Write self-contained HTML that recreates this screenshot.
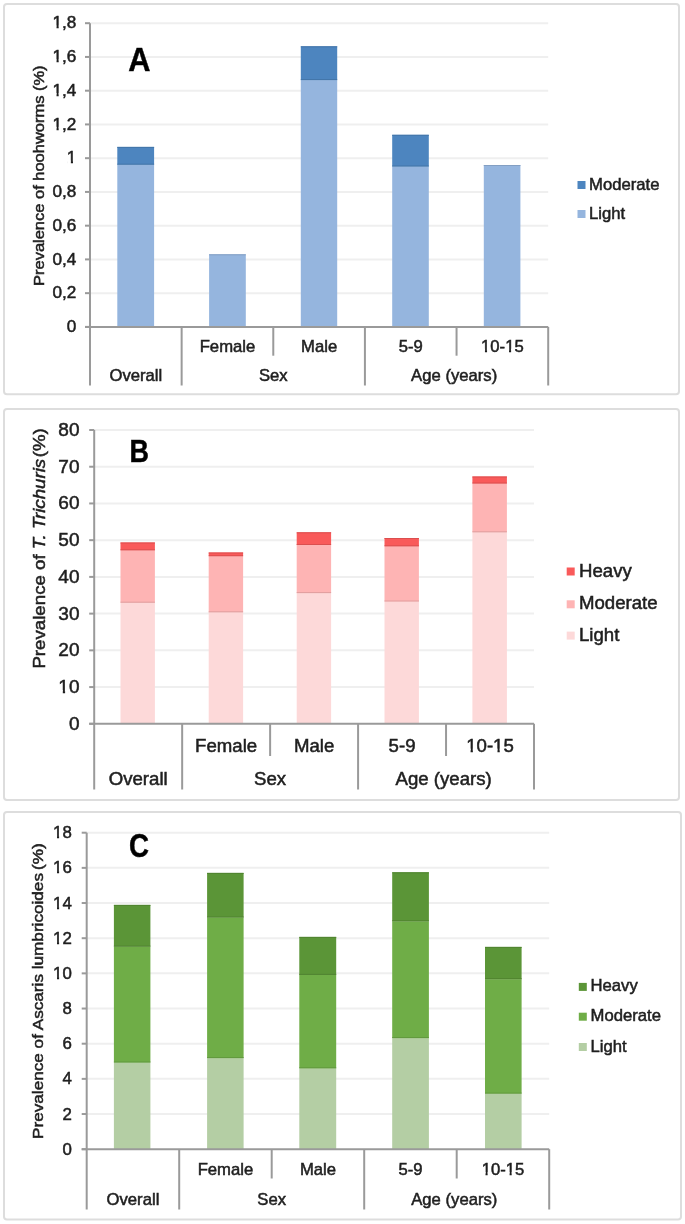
<!DOCTYPE html>
<html><head><meta charset="utf-8"><title>Prevalence charts</title>
<style>
html,body{margin:0;padding:0;background:#fff;}
body{width:685px;height:1224px;overflow:hidden;}
svg{display:block;will-change:transform;font-family:"Liberation Sans", sans-serif;fill:#1e1e1e;}
text{stroke:#1e1e1e;stroke-width:0.5px;paint-order:stroke;}
</style></head><body>
<svg width="685" height="1224" viewBox="0 0 685 1224">
<rect x="0" y="0" width="685" height="1224" fill="#fff"/>
<rect x="4" y="4" width="675" height="390.3" rx="3" fill="none" stroke="#dddddd" stroke-width="2"/>
<line x1="90" y1="293.16" x2="548.2" y2="293.16" stroke="#efefef" stroke-width="2"/>
<line x1="90" y1="259.41" x2="548.2" y2="259.41" stroke="#efefef" stroke-width="2"/>
<line x1="90" y1="225.67" x2="548.2" y2="225.67" stroke="#efefef" stroke-width="2"/>
<line x1="90" y1="191.92" x2="548.2" y2="191.92" stroke="#efefef" stroke-width="2"/>
<line x1="90" y1="158.18" x2="548.2" y2="158.18" stroke="#efefef" stroke-width="2"/>
<line x1="90" y1="124.43" x2="548.2" y2="124.43" stroke="#efefef" stroke-width="2"/>
<line x1="90" y1="90.69" x2="548.2" y2="90.69" stroke="#efefef" stroke-width="2"/>
<line x1="90" y1="56.94" x2="548.2" y2="56.94" stroke="#efefef" stroke-width="2"/>
<line x1="90" y1="23.2" x2="548.2" y2="23.2" stroke="#efefef" stroke-width="2"/>
<rect x="117.3" y="164.7" width="36.8" height="162.2" fill="#95b5de"/>
<rect x="117.3" y="146.9" width="36.8" height="17.8" fill="#4d85bf"/>
<rect x="117.3" y="163.7" width="36.8" height="1" fill="#4375a8"/>
<rect x="117.3" y="146.9" width="36.8" height="1" fill="#4375a8"/>
<rect x="209.1" y="254.3" width="36.7" height="72.6" fill="#95b5de"/>
<rect x="209.1" y="254.3" width="36.7" height="1" fill="#839fc3"/>
<rect x="300.8" y="80.1" width="36.4" height="246.8" fill="#95b5de"/>
<rect x="300.8" y="46.3" width="36.4" height="33.8" fill="#4d85bf"/>
<rect x="300.8" y="79.1" width="36.4" height="1" fill="#4375a8"/>
<rect x="300.8" y="46.3" width="36.4" height="1" fill="#4375a8"/>
<rect x="392.2" y="166.5" width="36.6" height="160.4" fill="#95b5de"/>
<rect x="392.2" y="134.8" width="36.6" height="31.7" fill="#4d85bf"/>
<rect x="392.2" y="165.5" width="36.6" height="1" fill="#4375a8"/>
<rect x="392.2" y="134.8" width="36.6" height="1" fill="#4375a8"/>
<rect x="483.8" y="165" width="36.6" height="161.9" fill="#95b5de"/>
<rect x="483.8" y="165" width="36.6" height="1" fill="#839fc3"/>
<line x1="90" y1="23.2" x2="90" y2="385.5" stroke="#9a9a9a" stroke-width="2"/>
<line x1="85" y1="326.9" x2="548.2" y2="326.9" stroke="#9a9a9a" stroke-width="2"/>
<line x1="85" y1="326.9" x2="90" y2="326.9" stroke="#9a9a9a" stroke-width="2"/>
<line x1="85" y1="293.16" x2="90" y2="293.16" stroke="#9a9a9a" stroke-width="2"/>
<line x1="85" y1="259.41" x2="90" y2="259.41" stroke="#9a9a9a" stroke-width="2"/>
<line x1="85" y1="225.67" x2="90" y2="225.67" stroke="#9a9a9a" stroke-width="2"/>
<line x1="85" y1="191.92" x2="90" y2="191.92" stroke="#9a9a9a" stroke-width="2"/>
<line x1="85" y1="158.18" x2="90" y2="158.18" stroke="#9a9a9a" stroke-width="2"/>
<line x1="85" y1="124.43" x2="90" y2="124.43" stroke="#9a9a9a" stroke-width="2"/>
<line x1="85" y1="90.69" x2="90" y2="90.69" stroke="#9a9a9a" stroke-width="2"/>
<line x1="85" y1="56.94" x2="90" y2="56.94" stroke="#9a9a9a" stroke-width="2"/>
<line x1="85" y1="23.2" x2="90" y2="23.2" stroke="#9a9a9a" stroke-width="2"/>
<line x1="181.64" y1="326.9" x2="181.64" y2="385.5" stroke="#9a9a9a" stroke-width="2"/>
<line x1="273.28" y1="326.9" x2="273.28" y2="355.7" stroke="#9a9a9a" stroke-width="2"/>
<line x1="364.92" y1="326.9" x2="364.92" y2="385.5" stroke="#9a9a9a" stroke-width="2"/>
<line x1="456.56" y1="326.9" x2="456.56" y2="355.7" stroke="#9a9a9a" stroke-width="2"/>
<line x1="548.2" y1="326.9" x2="548.2" y2="385.5" stroke="#9a9a9a" stroke-width="2"/>
<text transform="translate(76.4,332.1) scale(1.04,1)" text-anchor="end" font-size="16.5">0</text>
<text transform="translate(76.4,298.36) scale(1.04,1)" text-anchor="end" font-size="16.5">0,2</text>
<text transform="translate(76.4,264.61) scale(1.04,1)" text-anchor="end" font-size="16.5">0,4</text>
<text transform="translate(76.4,230.87) scale(1.04,1)" text-anchor="end" font-size="16.5">0,6</text>
<text transform="translate(76.4,197.12) scale(1.04,1)" text-anchor="end" font-size="16.5">0,8</text>
<text transform="translate(76.4,163.38) scale(1.04,1)" text-anchor="end" font-size="16.5">1</text>
<text transform="translate(76.4,129.63) scale(1.04,1)" text-anchor="end" font-size="16.5">1,2</text>
<text transform="translate(76.4,95.89) scale(1.04,1)" text-anchor="end" font-size="16.5">1,4</text>
<text transform="translate(76.4,62.14) scale(1.04,1)" text-anchor="end" font-size="16.5">1,6</text>
<text transform="translate(76.4,28.4) scale(1.04,1)" text-anchor="end" font-size="16.5">1,8</text>
<text transform="translate(227.46,351.5) scale(1.055,1)" text-anchor="middle" font-size="15.8">Female</text>
<text transform="translate(319.1,351.5) scale(1.055,1)" text-anchor="middle" font-size="15.8">Male</text>
<text transform="translate(410.74,351.5) scale(1.055,1)" text-anchor="middle" font-size="15.8">5-9</text>
<text transform="translate(502.38,351.5) scale(1.055,1)" text-anchor="middle" font-size="15.8">10-15</text>
<text transform="translate(135.82,381.2) scale(1.055,1)" text-anchor="middle" font-size="15.8">Overall</text>
<text transform="translate(273.28,381.2) scale(1.055,1)" text-anchor="middle" font-size="15.8">Sex</text>
<text transform="translate(454.16,381.2) scale(1.055,1)" text-anchor="middle" font-size="15.8">Age (years)</text>
<rect x="577.5" y="181" width="8" height="8" fill="#4d85bf"/>
<text transform="translate(589,189.7) scale(1.055,1)" font-size="15.8">Moderate</text>
<rect x="577.5" y="210" width="8" height="8" fill="#95b5de"/>
<text transform="translate(589,218.7) scale(1.055,1)" font-size="15.8">Light</text>
<text transform="translate(43.5,175.7) rotate(-90) scale(1.11,1)" text-anchor="middle" font-size="14.85">Prevalence of hoohworms (%)</text>
<text transform="translate(128.3,70.7) scale(0.92,1)" font-size="33.5" font-weight="bold" fill="#000" stroke="#000" stroke-width="0.3">A</text>
<rect x="4" y="409" width="675" height="391" rx="3" fill="none" stroke="#dddddd" stroke-width="2"/>
<line x1="94.2" y1="687.07" x2="534" y2="687.07" stroke="#efefef" stroke-width="2"/>
<line x1="94.2" y1="650.35" x2="534" y2="650.35" stroke="#efefef" stroke-width="2"/>
<line x1="94.2" y1="613.62" x2="534" y2="613.62" stroke="#efefef" stroke-width="2"/>
<line x1="94.2" y1="576.9" x2="534" y2="576.9" stroke="#efefef" stroke-width="2"/>
<line x1="94.2" y1="540.17" x2="534" y2="540.17" stroke="#efefef" stroke-width="2"/>
<line x1="94.2" y1="503.45" x2="534" y2="503.45" stroke="#efefef" stroke-width="2"/>
<line x1="94.2" y1="466.73" x2="534" y2="466.73" stroke="#efefef" stroke-width="2"/>
<line x1="94.2" y1="430" x2="534" y2="430" stroke="#efefef" stroke-width="2"/>
<rect x="120.5" y="602.7" width="34.4" height="121.1" fill="#fdd9d9"/>
<rect x="120.5" y="550.3" width="34.4" height="52.4" fill="#feb4b4"/>
<rect x="120.5" y="542.5" width="34.4" height="7.8" fill="#f95a5a"/>
<rect x="120.5" y="601.7" width="34.4" height="1" fill="#df9e9e"/>
<rect x="120.5" y="549.3" width="34.4" height="1" fill="#db4f4f"/>
<rect x="120.5" y="542.5" width="34.4" height="1" fill="#db4f4f"/>
<rect x="208.7" y="612.3" width="34.4" height="111.5" fill="#fdd9d9"/>
<rect x="208.7" y="556.2" width="34.4" height="56.1" fill="#feb4b4"/>
<rect x="208.7" y="552.5" width="34.4" height="3.7" fill="#f95a5a"/>
<rect x="208.7" y="611.3" width="34.4" height="1" fill="#df9e9e"/>
<rect x="208.7" y="555.2" width="34.4" height="1" fill="#db4f4f"/>
<rect x="208.7" y="552.5" width="34.4" height="1" fill="#db4f4f"/>
<rect x="296.7" y="593.1" width="34.4" height="130.7" fill="#fdd9d9"/>
<rect x="296.7" y="545" width="34.4" height="48.1" fill="#feb4b4"/>
<rect x="296.7" y="532.3" width="34.4" height="12.7" fill="#f95a5a"/>
<rect x="296.7" y="592.1" width="34.4" height="1" fill="#df9e9e"/>
<rect x="296.7" y="544" width="34.4" height="1" fill="#db4f4f"/>
<rect x="296.7" y="532.3" width="34.4" height="1" fill="#db4f4f"/>
<rect x="384.5" y="601.5" width="34.4" height="122.3" fill="#fdd9d9"/>
<rect x="384.5" y="546.3" width="34.4" height="55.2" fill="#feb4b4"/>
<rect x="384.5" y="538" width="34.4" height="8.3" fill="#f95a5a"/>
<rect x="384.5" y="600.5" width="34.4" height="1" fill="#df9e9e"/>
<rect x="384.5" y="545.3" width="34.4" height="1" fill="#db4f4f"/>
<rect x="384.5" y="538" width="34.4" height="1" fill="#db4f4f"/>
<rect x="472.4" y="532.3" width="34.5" height="191.5" fill="#fdd9d9"/>
<rect x="472.4" y="483.5" width="34.5" height="48.8" fill="#feb4b4"/>
<rect x="472.4" y="476.5" width="34.5" height="7" fill="#f95a5a"/>
<rect x="472.4" y="531.3" width="34.5" height="1" fill="#df9e9e"/>
<rect x="472.4" y="482.5" width="34.5" height="1" fill="#db4f4f"/>
<rect x="472.4" y="476.5" width="34.5" height="1" fill="#db4f4f"/>
<line x1="94.2" y1="430" x2="94.2" y2="789.5" stroke="#9a9a9a" stroke-width="2"/>
<line x1="89.2" y1="723.8" x2="534" y2="723.8" stroke="#9a9a9a" stroke-width="2"/>
<line x1="89.2" y1="723.8" x2="94.2" y2="723.8" stroke="#9a9a9a" stroke-width="2"/>
<line x1="89.2" y1="687.07" x2="94.2" y2="687.07" stroke="#9a9a9a" stroke-width="2"/>
<line x1="89.2" y1="650.35" x2="94.2" y2="650.35" stroke="#9a9a9a" stroke-width="2"/>
<line x1="89.2" y1="613.62" x2="94.2" y2="613.62" stroke="#9a9a9a" stroke-width="2"/>
<line x1="89.2" y1="576.9" x2="94.2" y2="576.9" stroke="#9a9a9a" stroke-width="2"/>
<line x1="89.2" y1="540.17" x2="94.2" y2="540.17" stroke="#9a9a9a" stroke-width="2"/>
<line x1="89.2" y1="503.45" x2="94.2" y2="503.45" stroke="#9a9a9a" stroke-width="2"/>
<line x1="89.2" y1="466.73" x2="94.2" y2="466.73" stroke="#9a9a9a" stroke-width="2"/>
<line x1="89.2" y1="430" x2="94.2" y2="430" stroke="#9a9a9a" stroke-width="2"/>
<line x1="182.16" y1="723.8" x2="182.16" y2="789.5" stroke="#9a9a9a" stroke-width="2"/>
<line x1="270.12" y1="723.8" x2="270.12" y2="756" stroke="#9a9a9a" stroke-width="2"/>
<line x1="358.08" y1="723.8" x2="358.08" y2="789.5" stroke="#9a9a9a" stroke-width="2"/>
<line x1="446.04" y1="723.8" x2="446.04" y2="756" stroke="#9a9a9a" stroke-width="2"/>
<line x1="534" y1="723.8" x2="534" y2="789.5" stroke="#9a9a9a" stroke-width="2"/>
<text transform="translate(79.5,729.8) scale(1.04,1)" text-anchor="end" font-size="18.3">0</text>
<text transform="translate(79.5,693.07) scale(1.04,1)" text-anchor="end" font-size="18.3">10</text>
<text transform="translate(79.5,656.35) scale(1.04,1)" text-anchor="end" font-size="18.3">20</text>
<text transform="translate(79.5,619.62) scale(1.04,1)" text-anchor="end" font-size="18.3">30</text>
<text transform="translate(79.5,582.9) scale(1.04,1)" text-anchor="end" font-size="18.3">40</text>
<text transform="translate(79.5,546.17) scale(1.04,1)" text-anchor="end" font-size="18.3">50</text>
<text transform="translate(79.5,509.45) scale(1.04,1)" text-anchor="end" font-size="18.3">60</text>
<text transform="translate(79.5,472.73) scale(1.04,1)" text-anchor="end" font-size="18.3">70</text>
<text transform="translate(79.5,436) scale(1.04,1)" text-anchor="end" font-size="18.3">80</text>
<text transform="translate(226.14,751.5) scale(1.055,1)" text-anchor="middle" font-size="17.65">Female</text>
<text transform="translate(314.1,751.5) scale(1.055,1)" text-anchor="middle" font-size="17.65">Male</text>
<text transform="translate(402.06,751.5) scale(1.055,1)" text-anchor="middle" font-size="17.65">5-9</text>
<text transform="translate(490.02,751.5) scale(1.055,1)" text-anchor="middle" font-size="17.65">10-15</text>
<text transform="translate(138.18,784.6) scale(1.055,1)" text-anchor="middle" font-size="17.65">Overall</text>
<text transform="translate(270.12,784.6) scale(1.055,1)" text-anchor="middle" font-size="17.65">Sex</text>
<text transform="translate(443.64,784.6) scale(1.055,1)" text-anchor="middle" font-size="17.65">Age (years)</text>
<rect x="566.7" y="567.5" width="8" height="8" fill="#f95a5a"/>
<text transform="translate(579,576.5) scale(1.055,1)" font-size="17.65">Heavy</text>
<rect x="566.7" y="600.3" width="8" height="8" fill="#feb4b4"/>
<text transform="translate(579,609.3) scale(1.055,1)" font-size="17.65">Moderate</text>
<rect x="566.7" y="631.6" width="8" height="8" fill="#fdd9d9"/>
<text transform="translate(579,640.6) scale(1.055,1)" font-size="17.65">Light</text>
<text transform="translate(44.5,548.4) rotate(-90) scale(1.14,1)" text-anchor="middle" font-size="16.4">Prevalence of <tspan font-style="italic">T. Trichuris</tspan> <tspan dx="-3.2">(%)</tspan></text>
<text transform="translate(129.5,462.4) scale(0.87,1)" font-size="31" font-weight="bold" fill="#000" stroke="#000" stroke-width="0.3">B</text>
<rect x="4" y="812" width="677" height="407.5" rx="3" fill="none" stroke="#dddddd" stroke-width="2"/>
<line x1="86.7" y1="1114.03" x2="549.2" y2="1114.03" stroke="#efefef" stroke-width="2"/>
<line x1="86.7" y1="1078.87" x2="549.2" y2="1078.87" stroke="#efefef" stroke-width="2"/>
<line x1="86.7" y1="1043.7" x2="549.2" y2="1043.7" stroke="#efefef" stroke-width="2"/>
<line x1="86.7" y1="1008.53" x2="549.2" y2="1008.53" stroke="#efefef" stroke-width="2"/>
<line x1="86.7" y1="973.37" x2="549.2" y2="973.37" stroke="#efefef" stroke-width="2"/>
<line x1="86.7" y1="938.2" x2="549.2" y2="938.2" stroke="#efefef" stroke-width="2"/>
<line x1="86.7" y1="903.03" x2="549.2" y2="903.03" stroke="#efefef" stroke-width="2"/>
<line x1="86.7" y1="867.87" x2="549.2" y2="867.87" stroke="#efefef" stroke-width="2"/>
<line x1="86.7" y1="832.7" x2="549.2" y2="832.7" stroke="#efefef" stroke-width="2"/>
<rect x="113.9" y="1062.5" width="36.5" height="86.7" fill="#b4cea4"/>
<rect x="113.9" y="946.6" width="36.5" height="115.9" fill="#6fad47"/>
<rect x="113.9" y="904.9" width="36.5" height="41.7" fill="#5b9537"/>
<rect x="113.9" y="1061.5" width="36.5" height="1" fill="#61983e"/>
<rect x="113.9" y="945.6" width="36.5" height="1" fill="#508330"/>
<rect x="113.9" y="904.9" width="36.5" height="1" fill="#508330"/>
<rect x="207.1" y="1058.1" width="36.5" height="91.1" fill="#b4cea4"/>
<rect x="207.1" y="917.5" width="36.5" height="140.6" fill="#6fad47"/>
<rect x="207.1" y="872.9" width="36.5" height="44.6" fill="#5b9537"/>
<rect x="207.1" y="1057.1" width="36.5" height="1" fill="#61983e"/>
<rect x="207.1" y="916.5" width="36.5" height="1" fill="#508330"/>
<rect x="207.1" y="872.9" width="36.5" height="1" fill="#508330"/>
<rect x="299.3" y="1068.3" width="36.9" height="80.9" fill="#b4cea4"/>
<rect x="299.3" y="974.9" width="36.9" height="93.4" fill="#6fad47"/>
<rect x="299.3" y="936.9" width="36.9" height="38" fill="#5b9537"/>
<rect x="299.3" y="1067.3" width="36.9" height="1" fill="#61983e"/>
<rect x="299.3" y="973.9" width="36.9" height="1" fill="#508330"/>
<rect x="299.3" y="936.9" width="36.9" height="1" fill="#508330"/>
<rect x="392.2" y="1038.1" width="36.7" height="111.1" fill="#b4cea4"/>
<rect x="392.2" y="921.3" width="36.7" height="116.8" fill="#6fad47"/>
<rect x="392.2" y="872.3" width="36.7" height="49" fill="#5b9537"/>
<rect x="392.2" y="1037.1" width="36.7" height="1" fill="#61983e"/>
<rect x="392.2" y="920.3" width="36.7" height="1" fill="#508330"/>
<rect x="392.2" y="872.3" width="36.7" height="1" fill="#508330"/>
<rect x="485" y="1093.6" width="36.6" height="55.6" fill="#b4cea4"/>
<rect x="485" y="979.2" width="36.6" height="114.4" fill="#6fad47"/>
<rect x="485" y="946.9" width="36.6" height="32.3" fill="#5b9537"/>
<rect x="485" y="1092.6" width="36.6" height="1" fill="#61983e"/>
<rect x="485" y="978.2" width="36.6" height="1" fill="#508330"/>
<rect x="485" y="946.9" width="36.6" height="1" fill="#508330"/>
<line x1="86.7" y1="832.7" x2="86.7" y2="1209.5" stroke="#9a9a9a" stroke-width="2"/>
<line x1="81.7" y1="1149.2" x2="549.2" y2="1149.2" stroke="#9a9a9a" stroke-width="2"/>
<line x1="81.7" y1="1149.2" x2="86.7" y2="1149.2" stroke="#9a9a9a" stroke-width="2"/>
<line x1="81.7" y1="1114.03" x2="86.7" y2="1114.03" stroke="#9a9a9a" stroke-width="2"/>
<line x1="81.7" y1="1078.87" x2="86.7" y2="1078.87" stroke="#9a9a9a" stroke-width="2"/>
<line x1="81.7" y1="1043.7" x2="86.7" y2="1043.7" stroke="#9a9a9a" stroke-width="2"/>
<line x1="81.7" y1="1008.53" x2="86.7" y2="1008.53" stroke="#9a9a9a" stroke-width="2"/>
<line x1="81.7" y1="973.37" x2="86.7" y2="973.37" stroke="#9a9a9a" stroke-width="2"/>
<line x1="81.7" y1="938.2" x2="86.7" y2="938.2" stroke="#9a9a9a" stroke-width="2"/>
<line x1="81.7" y1="903.03" x2="86.7" y2="903.03" stroke="#9a9a9a" stroke-width="2"/>
<line x1="81.7" y1="867.87" x2="86.7" y2="867.87" stroke="#9a9a9a" stroke-width="2"/>
<line x1="81.7" y1="832.7" x2="86.7" y2="832.7" stroke="#9a9a9a" stroke-width="2"/>
<line x1="179.2" y1="1149.2" x2="179.2" y2="1209.5" stroke="#9a9a9a" stroke-width="2"/>
<line x1="271.7" y1="1149.2" x2="271.7" y2="1178.5" stroke="#9a9a9a" stroke-width="2"/>
<line x1="364.2" y1="1149.2" x2="364.2" y2="1209.5" stroke="#9a9a9a" stroke-width="2"/>
<line x1="456.7" y1="1149.2" x2="456.7" y2="1178.5" stroke="#9a9a9a" stroke-width="2"/>
<line x1="549.2" y1="1149.2" x2="549.2" y2="1209.5" stroke="#9a9a9a" stroke-width="2"/>
<text transform="translate(71.8,1154.7) scale(1.04,1)" text-anchor="end" font-size="16.2">0</text>
<text transform="translate(71.8,1119.53) scale(1.04,1)" text-anchor="end" font-size="16.2">2</text>
<text transform="translate(71.8,1084.37) scale(1.04,1)" text-anchor="end" font-size="16.2">4</text>
<text transform="translate(71.8,1049.2) scale(1.04,1)" text-anchor="end" font-size="16.2">6</text>
<text transform="translate(71.8,1014.03) scale(1.04,1)" text-anchor="end" font-size="16.2">8</text>
<text transform="translate(71.8,978.87) scale(1.04,1)" text-anchor="end" font-size="16.2">10</text>
<text transform="translate(71.8,943.7) scale(1.04,1)" text-anchor="end" font-size="16.2">12</text>
<text transform="translate(71.8,908.53) scale(1.04,1)" text-anchor="end" font-size="16.2">14</text>
<text transform="translate(71.8,873.37) scale(1.04,1)" text-anchor="end" font-size="16.2">16</text>
<text transform="translate(71.8,838.2) scale(1.04,1)" text-anchor="end" font-size="16.2">18</text>
<text transform="translate(225.45,1174.9) scale(1.055,1)" text-anchor="middle" font-size="15.8">Female</text>
<text transform="translate(317.95,1174.9) scale(1.055,1)" text-anchor="middle" font-size="15.8">Male</text>
<text transform="translate(410.45,1174.9) scale(1.055,1)" text-anchor="middle" font-size="15.8">5-9</text>
<text transform="translate(502.95,1174.9) scale(1.055,1)" text-anchor="middle" font-size="15.8">10-15</text>
<text transform="translate(132.95,1205) scale(1.055,1)" text-anchor="middle" font-size="15.8">Overall</text>
<text transform="translate(271.7,1205) scale(1.055,1)" text-anchor="middle" font-size="15.8">Sex</text>
<text transform="translate(454.3,1205) scale(1.055,1)" text-anchor="middle" font-size="15.8">Age (years)</text>
<rect x="578.8" y="982.9" width="8" height="8" fill="#5b9537"/>
<text transform="translate(590.5,991.4) scale(1.055,1)" font-size="15.8">Heavy</text>
<rect x="578.8" y="1012.7" width="8" height="8" fill="#6fad47"/>
<text transform="translate(590.5,1021.2) scale(1.055,1)" font-size="15.8">Moderate</text>
<rect x="578.8" y="1043" width="8" height="8" fill="#b4cea4"/>
<text transform="translate(590.5,1051.5) scale(1.055,1)" font-size="15.8">Light</text>
<text transform="translate(43.4,991.1) rotate(-90) scale(1.121,1)" text-anchor="middle" font-size="15.3">Prevalence of Ascaris lumbricoides <tspan dx="-1.5">(%)</tspan></text>
<text transform="translate(129,856.8) scale(0.84,1)" font-size="33" font-weight="bold" fill="#000" stroke="#000" stroke-width="0.3">C</text>
<g fill="#fff"><g transform="translate(76.4,163.38) scale(1.04,1)"><rect x="-8.82" y="-2.83" width="3.49" height="4.53"/><rect x="-3.27" y="-2.83" width="3.36" height="4.53"/></g><g transform="translate(76.4,129.63) scale(1.04,1)"><rect x="-22.59" y="-2.83" width="3.49" height="4.53"/><rect x="-17.04" y="-2.83" width="3.36" height="4.53"/></g><g transform="translate(76.4,95.89) scale(1.04,1)"><rect x="-22.59" y="-2.83" width="3.49" height="4.53"/><rect x="-17.04" y="-2.83" width="3.36" height="4.53"/></g><g transform="translate(76.4,62.14) scale(1.04,1)"><rect x="-22.59" y="-2.83" width="3.49" height="4.53"/><rect x="-17.04" y="-2.83" width="3.36" height="4.53"/></g><g transform="translate(76.4,28.4) scale(1.04,1)"><rect x="-22.59" y="-2.83" width="3.49" height="4.53"/><rect x="-17.04" y="-2.83" width="3.36" height="4.53"/></g><g transform="translate(502.38,351.5) scale(1.055,1)"><rect x="-19.90" y="-2.78" width="3.37" height="4.48"/><rect x="-14.53" y="-2.78" width="3.25" height="4.48"/><rect x="2.92" y="-2.78" width="3.37" height="4.48"/><rect x="8.28" y="-2.78" width="3.25" height="4.48"/></g><g transform="translate(79.5,693.07) scale(1.04,1)"><rect x="-19.86" y="-2.97" width="3.81" height="4.67"/><rect x="-13.84" y="-2.97" width="3.66" height="4.67"/></g><g transform="translate(490.02,751.5) scale(1.055,1)"><rect x="-22.11" y="-2.92" width="3.69" height="4.62"/><rect x="-16.25" y="-2.92" width="3.56" height="4.62"/><rect x="3.37" y="-2.92" width="3.69" height="4.62"/><rect x="9.22" y="-2.92" width="3.56" height="4.62"/></g><g transform="translate(71.8,978.87) scale(1.04,1)"><rect x="-17.68" y="-2.81" width="3.44" height="4.51"/><rect x="-12.21" y="-2.81" width="3.31" height="4.51"/></g><g transform="translate(71.8,943.7) scale(1.04,1)"><rect x="-17.68" y="-2.81" width="3.44" height="4.51"/><rect x="-12.21" y="-2.81" width="3.31" height="4.51"/></g><g transform="translate(71.8,908.53) scale(1.04,1)"><rect x="-17.68" y="-2.81" width="3.44" height="4.51"/><rect x="-12.21" y="-2.81" width="3.31" height="4.51"/></g><g transform="translate(71.8,873.37) scale(1.04,1)"><rect x="-17.68" y="-2.81" width="3.44" height="4.51"/><rect x="-12.21" y="-2.81" width="3.31" height="4.51"/></g><g transform="translate(71.8,838.2) scale(1.04,1)"><rect x="-17.68" y="-2.81" width="3.44" height="4.51"/><rect x="-12.21" y="-2.81" width="3.31" height="4.51"/></g><g transform="translate(502.95,1174.9) scale(1.055,1)"><rect x="-19.90" y="-2.78" width="3.37" height="4.48"/><rect x="-14.53" y="-2.78" width="3.25" height="4.48"/><rect x="2.92" y="-2.78" width="3.37" height="4.48"/><rect x="8.28" y="-2.78" width="3.25" height="4.48"/></g></g>
</svg>
</body></html>
